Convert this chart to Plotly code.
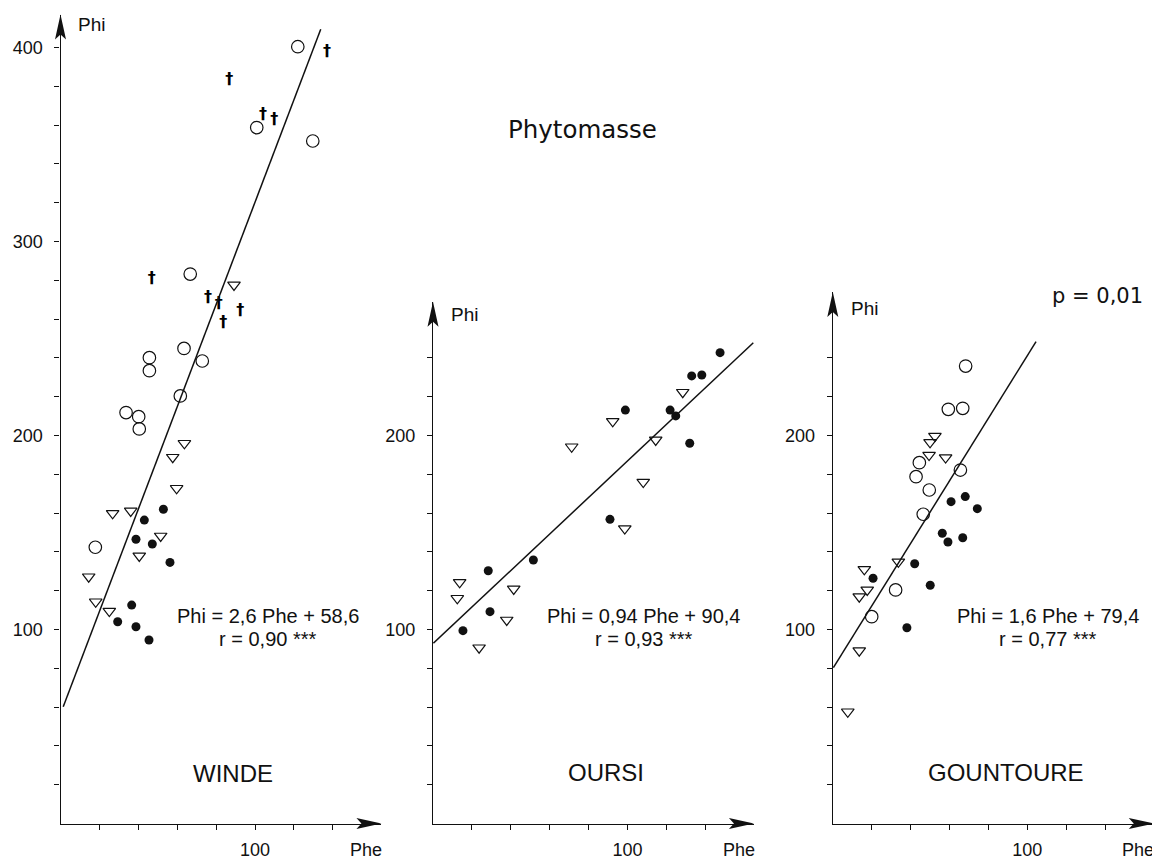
import plotly.graph_objects as go

# ---------------- data ----------------
# WINDE
winde_open_phe = [122.0, 100.9, 129.7, 66.7, 63.5, 72.9, 45.7, 45.7, 61.6, 33.7, 40.2, 40.5, 17.9]
winde_open_phi = [400.4, 358.7, 351.8, 283.2, 244.9, 238.4, 240.1, 233.4, 220.4, 211.8, 209.7, 203.4, 142.4]
winde_dagger_phe = [137.0, 86.8, 104.1, 109.9, 46.9, 75.8, 81.3, 92.4, 83.7]
winde_dagger_phi = [397.8, 383.2, 365.2, 362.6, 280.5, 270.7, 267.8, 264.3, 257.8]
winde_tri_phe = [89.2, 63.7, 57.7, 59.7, 26.8, 36.1, 51.5, 40.5, 14.5, 18.1, 25.1]
winde_tri_phi = [277.6, 196.0, 188.8, 172.8, 159.9, 161.1, 148.2, 137.9, 127.2, 114.3, 109.5]
winde_fill_phe = [52.9, 43.1, 38.8, 47.2, 56.3, 36.6, 29.4, 38.8, 45.5]
winde_fill_phi = [162.0, 156.4, 146.5, 144.1, 134.6, 112.6, 104.0, 101.4, 94.6]
winde_fit_phe = [1.4, 133.8]
winde_fit_phi = [60.2, 409.4]

# OURSI
oursi_fill_phe = [147.6, 133.0, 138.2, 98.9, 121.9, 124.8, 132.0, 91.0, 51.6, 28.4, 29.3, 15.4]
oursi_fill_phi = [242.7, 230.7, 231.2, 213.1, 213.1, 210.1, 196.0, 156.8, 135.8, 130.3, 109.2, 99.4]
oursi_tri_phe = [128.4, 92.4, 114.5, 71.3, 108.1, 98.6, 13.7, 12.5, 41.5, 37.9, 23.7]
oursi_tri_phi = [222.3, 207.3, 197.7, 194.2, 176.0, 152.0, 124.3, 116.1, 120.9, 104.9, 90.6]
oursi_fit_phe = [0.2, 164.7]
oursi_fit_phi = [92.9, 247.8]

# GOUNTOURE
gount_open_phe = [68.3, 59.4, 66.8, 44.5, 42.8, 65.6, 49.6, 46.5, 32.3, 20.0]
gount_open_phi = [235.8, 213.5, 214.0, 186.0, 178.8, 182.2, 171.9, 159.4, 120.4, 106.6]
gount_tri_phe = [52.5, 50.0, 49.5, 58.0, 33.7, 16.2, 17.7, 13.6, 13.6, 7.7]
gount_tri_phi = [199.7, 196.5, 189.9, 188.6, 134.9, 131.0, 120.4, 116.9, 89.1, 57.6]
gount_fill_phe = [68.1, 60.8, 74.3, 56.3, 59.2, 66.8, 42.1, 20.7, 50.1, 38.1]
gount_fill_phi = [168.5, 165.9, 162.3, 149.6, 145.1, 147.3, 133.9, 126.4, 122.8, 100.9]
gount_fit_phe = [0.3, 104.5]
gount_fit_phi = [80.3, 248.4]

site_names = ["WINDE", "OURSI", "GOUNTOURE"]
equations = ["Phi = 2,6 Phe + 58,6", "Phi = 0,94 Phe + 90,4", "Phi = 1,6 Phe + 79,4"]
correlations = ["r = 0,90 ***", "r = 0,93 ***", "r = 0,77 ***"]
y_tick_labels = [["100", "200", "300", "400"], ["100", "200"], ["100", "200"]]
x_tick_labels = ["100"]

# ---------------- layout geometry (pixels of the window) ----------------
OFF = 8                      # page body margin
W, H = 1160 - OFF, 861 - OFF
PXX = 1.945                  # px per Phe unit
PXY = 1.94                   # px per Phi unit
Y0 = 823.5                   # window pixel row of Phi = 0
XMAX = 165
panel_x0 = [60.5, 433.0, 832.8]
panel_ymax = [417, 269, 274]

def X(px):
    return (px - OFF) / W

def Y(py):
    return 1 - (py - OFF) / H

FONT = "Liberation Sans, Arial, sans-serif"
INK = "#111111"

fig = go.Figure()

def add_panel(i, series, fit):
    xa = "x" if i == 0 else f"x{i+1}"
    ya = "y" if i == 0 else f"y{i+1}"
    for kind, px_, py_ in series:
        if kind == "open":
            fig.add_trace(go.Scatter(x=px_, y=py_, mode="markers", xaxis=xa, yaxis=ya,
                                     marker=dict(symbol="circle-open", size=12.5, color=INK,
                                                 line=dict(width=1.2, color=INK))))
        elif kind == "fill":
            fig.add_trace(go.Scatter(x=px_, y=py_, mode="markers", xaxis=xa, yaxis=ya,
                                     marker=dict(symbol="circle", size=9, color=INK)))
        elif kind == "tri":
            fig.add_trace(go.Scatter(x=px_, y=py_, mode="markers", xaxis=xa, yaxis=ya,
                                     marker=dict(symbol="triangle-down-open", size=11, color=INK,
                                                 line=dict(width=1.2, color=INK))))
        elif kind == "dagger":
            fig.add_trace(go.Scatter(x=px_, y=py_, mode="text", xaxis=xa, yaxis=ya,
                                     text=["†"] * len(px_), textposition="middle center",
                                     textfont=dict(size=16, color="black",
                                                   family="DejaVu Sans, sans-serif",
                                                   weight="bold")))
    fig.add_trace(go.Scatter(x=fit[0], y=fit[1], mode="lines", xaxis=xa, yaxis=ya,
                             line=dict(color=INK, width=1.5)))

add_panel(0, [("open", winde_open_phe, winde_open_phi),
              ("dagger", winde_dagger_phe, winde_dagger_phi),
              ("tri", winde_tri_phe, winde_tri_phi),
              ("fill", winde_fill_phe, winde_fill_phi)],
          (winde_fit_phe, winde_fit_phi))
add_panel(1, [("tri", oursi_tri_phe, oursi_tri_phi),
              ("fill", oursi_fill_phe, oursi_fill_phi)],
          (oursi_fit_phe, oursi_fit_phi))
add_panel(2, [("open", gount_open_phe, gount_open_phi),
              ("tri", gount_tri_phe, gount_tri_phi),
              ("fill", gount_fill_phe, gount_fill_phi)],
          (gount_fit_phe, gount_fit_phi))

layout = dict(width=W, height=H, margin=dict(l=0, r=0, t=0, b=0), autosize=False,
              paper_bgcolor="white", plot_bgcolor="white", showlegend=False)

shapes = []
annotations = []
for i in range(3):
    x0 = panel_x0[i]
    ymax = panel_ymax[i]
    xk = "xaxis" if i == 0 else f"xaxis{i+1}"
    yk = "yaxis" if i == 0 else f"yaxis{i+1}"
    xa_id = "x" if i == 0 else f"x{i+1}"
    ya_id = "y" if i == 0 else f"y{i+1}"
    x_end = x0 + XMAX * PXX
    y_top = Y0 - ymax * PXY
    yvals = [100 * (k + 1) for k in range(len(y_tick_labels[i]))]
    yminor = [v for v in range(20, int(ymax) - 20, 20) if v % 100 != 0]
    layout[xk] = dict(domain=[X(x0), X(x_end)], range=[0, XMAX], anchor=ya_id,
                      showline=True, linecolor=INK, linewidth=1.3, showgrid=False, zeroline=False,
                      ticks="outside", ticklen=5, tickwidth=1, tickcolor=INK,
                      tickvals=[100], ticktext=x_tick_labels, ticklabelstandoff=5,
                      tickfont=dict(family=FONT, size=18, color=INK),
                      minor=dict(tickvals=[20, 40, 60, 80, 120, 140], ticks="outside",
                                 ticklen=5, tickwidth=1, tickcolor=INK),
                      automargin=False, fixedrange=True)
    layout[yk] = dict(domain=[Y(Y0), Y(y_top)], range=[0, ymax], anchor=xa_id,
                      showline=True, linecolor=INK, linewidth=1.1, showgrid=False, zeroline=False,
                      ticks="outside", ticklen=5, tickwidth=1, tickcolor=INK,
                      tickvals=yvals, ticktext=y_tick_labels[i], ticklabelstandoff=8,
                      tickfont=dict(family=FONT, size=18, color=INK),
                      minor=dict(tickvals=yminor, ticks="outside",
                                 ticklen=5, tickwidth=1, tickcolor=INK),
                      automargin=False, fixedrange=True)
    # arrowheads
    L, hw, notch = 25, 5.5, 20
    shapes.append(dict(type="path", xref="paper", yref="paper", fillcolor=INK, line=dict(width=0),
                       path=f"M {X(x_end)},{Y(Y0)} L {X(x_end - L)},{Y(Y0 - hw)} "
                            f"L {X(x_end - notch)},{Y(Y0)} L {X(x_end - L)},{Y(Y0 + hw)} Z"))
    shapes.append(dict(type="path", xref="paper", yref="paper", fillcolor=INK, line=dict(width=0),
                       path=f"M {X(x0)},{Y(y_top)} L {X(x0 - hw)},{Y(y_top + L)} "
                            f"L {X(x0)},{Y(y_top + notch)} L {X(x0 + hw)},{Y(y_top + L)} Z"))

def note(text, px, py, size, family=FONT):
    annotations.append(dict(text=text, x=X(px), y=Y(py), xref="paper", yref="paper",
                            xanchor="center", yanchor="middle", showarrow=False,
                            font=dict(family=family, size=size, color=INK)))

phi_pos = [(91.5, 25), (464, 314), (864, 308)]
phe_pos = [(366, 850), (739, 850), (1138, 850)]
site_pos = [(233, 773), (606, 772), (1005.5, 772)]
eq_x = [268, 644, 1048]
for i in range(3):
    note("Phi", *phi_pos[i], 19)
    note("Phe", *phe_pos[i], 18)
    note(site_names[i], *site_pos[i], 24)
    note(equations[i], eq_x[i], 615.5, 20)
    note(correlations[i], eq_x[i], 638.5, 20)

note("Phytomasse", 582, 130, 24.5, "DejaVu Sans, sans-serif")
note("p = 0,01", 1097, 296, 21, "DejaVu Sans, sans-serif")

layout["shapes"] = shapes
layout["annotations"] = annotations
fig.update_layout(**layout)
fig.write_html("out.html")
